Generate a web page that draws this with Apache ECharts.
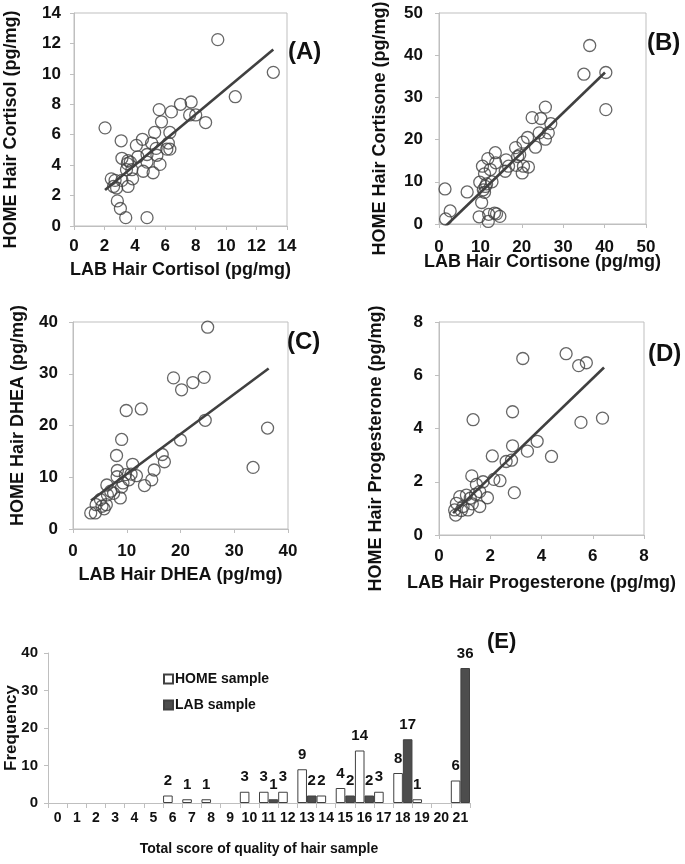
<!DOCTYPE html>
<html>
<head>
<meta charset="utf-8">
<script src="https://cdn.jsdelivr.net/npm/echarts@6/dist/echarts.min.js"></script>
<style>
html,body{margin:0;padding:0;background:#fff;}
#chart{width:685px;height:864px;}
</style>
</head>
<body>
<div id="chart"></div>
<script>
// ---- Panel A: cortisol (LAB x, HOME y)
const cortisolPoints = [
  [2.04,6.45],[9.45,12.25],[13.1,10.1],[10.6,8.5],[7.7,8.15],[7.0,8.0],[5.6,7.65],[6.4,7.5],
  [7.6,7.3],[8.0,7.3],[8.65,6.8],[5.75,6.85],[3.1,5.6],[4.5,5.7],[5.3,6.15],[6.3,6.15],
  [4.1,5.3],[5.1,5.45],[6.2,5.45],[6.1,5.05],[6.3,5.05],[5.4,5.1],[4.8,4.7],[5.45,4.65],
  [5.65,4.05],[4.2,4.55],[3.15,4.45],[3.55,4.3],[3.7,4.2],[3.5,4.1],[4.8,4.2],[4.55,3.6],
  [5.2,3.5],[3.45,3.7],[3.8,3.7],[3.85,3.1],[3.55,2.6],[3.15,3.0],[2.45,3.1],[2.7,3.0],
  [2.6,2.6],[2.8,2.5],[2.85,1.65],[3.05,1.15],[3.4,0.55],[4.8,0.55]
];
const cortisolTrend = [[2.04,2.36],[13.1,11.6]];

// ---- Panel B: cortisone
const cortisonePoints = [
  [1.45,8.3],[1.6,1.2],[2.7,3.1],[6.8,7.6],[9.85,9.9],[10.5,13.7],[11.8,15.5],[13.6,16.9],
  [13.7,14.5],[11.0,11.9],[12.4,12.9],[12.8,10.0],[11.2,8.9],[10.7,8.1],[11.0,7.5],[10.3,5.1],
  [9.7,1.7],[12.0,2.3],[11.9,0.6],[13.4,2.6],[13.9,2.4],[14.7,1.8],[16.2,15.2],[16.0,12.5],
  [16.8,13.7],[18.5,18.1],[18.7,13.9],[19.5,16.4],[20.1,12.1],[20.4,13.7],[20.3,19.4],[21.4,20.5],
  [21.6,13.5],[22.5,25.2],[23.3,18.2],[24.6,25.0],[24.2,21.6],[25.7,27.7],[25.7,20.1],[26.4,21.6],
  [27.0,23.8],[35.0,35.5],[36.4,42.3],[40.3,35.9],[40.3,27.1],[19.0,16.0],[11.5,9.5]
];
const cortisoneTrend = [[1.5,-0.6],[40.1,35.9]];

// ---- Panel C: DHEA
const dheaPoints = [
  [25.05,39.0],[18.7,29.2],[24.4,29.3],[22.3,28.3],[20.2,26.9],[9.9,22.9],[12.7,23.2],[24.6,21.0],
  [36.2,19.5],[20.0,17.2],[9.05,17.3],[33.5,11.9],[8.1,14.2],[16.6,14.4],[17.0,13.0],[11.1,12.5],
  [11.8,10.3],[15.1,11.4],[14.65,9.5],[13.3,8.4],[8.25,11.3],[8.2,10.1],[9.75,10.5],[10.4,9.5],
  [9.3,8.9],[9.05,8.1],[6.3,8.5],[7.55,6.9],[8.8,6.0],[6.4,6.6],[5.1,5.7],[6.2,4.7],
  [5.4,4.4],[4.3,4.7],[4.15,3.1],[3.3,3.1],[5.8,3.9],[7.0,7.3],[10.8,10.6]
];
const dheaTrend = [[3.35,5.5],[36.4,31.0]];

// ---- Panel D: progesterone
const progPoints = [
  [3.27,6.63],[4.96,6.81],[5.45,6.36],[5.75,6.47],[1.33,4.33],[2.87,4.63],[5.54,4.23],[6.38,4.39],
  [3.83,3.52],[3.45,3.15],[2.87,3.35],[4.39,2.95],[2.08,2.97],[2.83,2.81],[2.62,2.76],[1.28,2.22],
  [2.14,2.09],[2.38,2.04],[1.72,2.0],[1.46,1.9],[2.94,1.59],[1.89,1.40],[1.59,1.63],[1.43,1.53],
  [1.07,1.50],[0.81,1.44],[1.22,1.38],[1.30,1.17],[1.59,1.07],[1.13,0.94],[0.87,0.92],[0.68,1.19],
  [0.61,0.94],[0.65,0.75],[0.94,1.07]
];
const progTrend = [[0.55,0.82],[6.44,6.29]];

// ---- Panel E: quality score histogram
const scoreCats = ['0','1','2','3','4','5','6','7','8','9','10','11','12','13','14','15','16','17','18','19','20','21'];
const homeFreq = [0,0,0,0,0,0,2,1,1,0,3,3,3,9,2,4,14,3,8,1,0,6];
const labFreq  = [0,0,0,0,0,0,0,0,0,0,0,1,0,2,0,2,2,0,17,0,0,36];

const FONT = 'Liberation Sans, Arial, sans-serif';
const TXT = '#111';
const AX = '#bfbfbf';
const DARK = '#404040';

// shift > 0 moves a rotated y-axis name down along the axis
function yNamePad(shift) {
  return shift >= 0 ? [0, 2 * shift, 0, 0] : [0, 0, 0, -2 * shift];
}

function valAxis(gridIndex, max, interval, margin, nameText, nameGap, pad) {
  return {
    type: 'value', gridIndex, min: 0, max, interval,
    axisLine: {show: true, lineStyle: {color: AX, width: 1}},
    axisTick: {show: true, inside: false, length: 4, lineStyle: {color: AX}},
    splitLine: {show: false},
    axisLabel: {fontFamily: FONT, fontWeight: 'bold', fontSize: 17, color: TXT, margin},
    name: nameText, nameLocation: 'middle', nameGap, nameMoveOverlap: false,
    nameTextStyle: {fontFamily: FONT, fontWeight: 'bold', fontSize: 18, color: TXT, padding: pad || 0}
  };
}

const grids = [
  {left: 74, top: 13, width: 213, height: 213},
  {left: 439, top: 13, width: 207, height: 211},
  {left: 73, top: 322, width: 215, height: 207},
  {left: 439, top: 322, width: 205, height: 213},
  {left: 48, top: 653, width: 422, height: 150}
].map((g, i) => Object.assign({
  show: i < 4, borderColor: AX, borderWidth: 1, backgroundColor: 'transparent',
  containLabel: false, outerBoundsMode: 'none'
}, g));

const xAxes = [
  valAxis(0, 14, 2, 12, 'LAB Hair Cortisol (pg/mg)', 35),
  valAxis(1, 50, 10, 15, 'LAB Hair Cortisone (pg/mg)', 29),
  valAxis(2, 40, 10, 14, 'LAB Hair DHEA (pg/mg)', 37),
  valAxis(3, 8, 2, 13, 'LAB Hair Progesterone (pg/mg)', 39),
  {
    type: 'category', gridIndex: 4, data: scoreCats,
    axisLine: {show: true, lineStyle: {color: AX}},
    axisTick: {show: true, alignWithLabel: false, length: 5, interval: 0, lineStyle: {color: AX}},
    axisLabel: {interval: 0, fontFamily: FONT, fontWeight: 'bold', fontSize: 14, color: TXT, margin: 8},
    name: 'Total score of quality of hair sample', nameLocation: 'middle', nameGap: 39, nameMoveOverlap: false,
    nameTextStyle: {fontFamily: FONT, fontWeight: 'bold', fontSize: 14, color: TXT}
  }
];
const yAxes = [
  valAxis(0, 14, 2, 13, 'HOME Hair Cortisol (pg/mg)', 54, yNamePad(10)),
  valAxis(1, 50, 10, 16, 'HOME Hair Cortisone (pg/mg)', 50, yNamePad(10)),
  valAxis(2, 40, 10, 15, 'HOME Hair DHEA (pg/mg)', 46, yNamePad(-10)),
  valAxis(3, 8, 2, 16, 'HOME Hair Progesterone (pg/mg)', 54, yNamePad(20)),
  {
    type: 'value', gridIndex: 4, min: 0, max: 40, interval: 10,
    axisLine: {show: true, lineStyle: {color: AX}},
    axisTick: {show: true, length: 4, lineStyle: {color: AX}},
    splitLine: {show: false},
    axisLabel: {fontFamily: FONT, fontWeight: 'bold', fontSize: 15, color: TXT, margin: 10},
    name: 'Frequency', nameLocation: 'middle', nameGap: 28, nameMoveOverlap: false,
    nameTextStyle: {fontFamily: FONT, fontWeight: 'bold', fontSize: 17, color: TXT}
  }
];

function scatterSeries(i, pts) {
  return {
    type: 'scatter', xAxisIndex: i, yAxisIndex: i, data: pts,
    symbol: 'circle', symbolSize: 12, z: 2,
    itemStyle: {color: 'rgba(255,255,255,0)', borderColor: DARK, borderWidth: 1.3},
    emphasis: {disabled: true}
  };
}
function trendSeries(i, pts) {
  return {
    type: 'line', xAxisIndex: i, yAxisIndex: i, data: pts, showSymbol: false, symbol: 'none', z: 3,
    lineStyle: {color: DARK, width: 2.6}, emphasis: {disabled: true}
  };
}
const barLabel = {
  show: true, position: 'top', distance: 7,
  fontFamily: FONT, fontWeight: 'bold', fontSize: 15, color: TXT,
  formatter: p => (p.value ? String(p.value) : '')
};

const option = {
  animation: false,
  backgroundColor: '#fff',
  grid: grids,
  xAxis: xAxes,
  yAxis: yAxes,
  legend: {
    orient: 'vertical', left: 158, top: 667, itemWidth: 9, itemHeight: 9, itemGap: 12,
    icon: 'rect',
    textStyle: {fontFamily: FONT, fontWeight: 'bold', fontSize: 14, color: TXT, padding: [0, 0, 0, -3]},
    data: ['HOME sample', 'LAB sample']
  },
  graphic: [
    {type: 'text', left: 288, top: 40, style: {text: '(A)', font: 'bold 24px ' + FONT, fill: TXT}},
    {type: 'text', left: 647, top: 31, style: {text: '(B)', font: 'bold 24px ' + FONT, fill: TXT}},
    {type: 'text', left: 287, top: 330, style: {text: '(C)', font: 'bold 24px ' + FONT, fill: TXT}},
    {type: 'text', left: 648, top: 342, style: {text: '(D)', font: 'bold 24px ' + FONT, fill: TXT}},
    {type: 'text', left: 487, top: 631, style: {text: '(E)', font: 'bold 22px ' + FONT, fill: TXT}}
  ],
  series: [
    scatterSeries(0, cortisolPoints), trendSeries(0, cortisolTrend),
    scatterSeries(1, cortisonePoints), trendSeries(1, cortisoneTrend),
    scatterSeries(2, dheaPoints), trendSeries(2, dheaTrend),
    scatterSeries(3, progPoints), trendSeries(3, progTrend),
    {
      name: 'HOME sample', type: 'bar', xAxisIndex: 4, yAxisIndex: 4,
      data: homeFreq.map(v => (v ? v : '-')),
      barWidth: '50%', barGap: '0%', barCategoryGap: '0%',
      itemStyle: {color: '#fff', borderColor: DARK, borderWidth: 1},
      label: barLabel
    },
    {
      name: 'LAB sample', type: 'bar', xAxisIndex: 4, yAxisIndex: 4,
      data: labFreq.map(v => (v ? v : '-')),
      barWidth: '50%', barGap: '0%', barCategoryGap: '0%',
      itemStyle: {color: '#4d4d4d', borderColor: DARK, borderWidth: 1},
      label: barLabel
    }
  ]
};

const chart = echarts.init(document.getElementById('chart'), null, {renderer: 'canvas'});
chart.setOption(option);
</script>
</body>
</html>
